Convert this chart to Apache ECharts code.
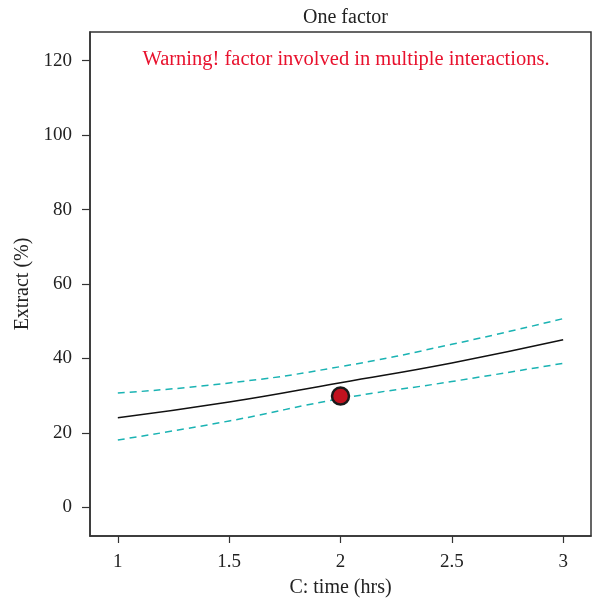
<!DOCTYPE html>
<html>
<head>
<meta charset="utf-8">
<script src="https://cdn.jsdelivr.net/npm/echarts@6/dist/echarts.min.js"></script>
<style>
  html, body { margin: 0; padding: 0; background: #fff; }
  #chart { width: 595px; height: 603px; }
</style>
</head>
<body>
<div id="chart"></div>
<script>
// 数据：时间 (hrs) 与提取率 (%)
var timeHrs = [1, 1.5, 2, 2.5, 3];
var predicted = [24.1, 28.3, 33.5, 38.8, 45.0];
var upperBand = [30.7, 33.4, 37.8, 43.8, 50.7];
var lowerBand = [18.1, 23.2, 29.2, 33.8, 38.7];
var designPoint = [[2, 29.9]];
var xTicks = [1, 1.5, 2, 2.5, 3];
var yTicks = [0, 20, 40, 60, 80, 100, 120];

function pairs(xs, ys) {
  return xs.map(function (x, i) { return [x, ys[i]]; });
}

var font = "Liberation Serif";
var axisColor = "#333";

var chart = echarts.init(document.getElementById("chart"), null, { renderer: "canvas" });
chart.setOption({
  animation: false,
  textStyle: { fontFamily: font },
  title: [
    {
      text: "One factor",
      left: 340.5,
      textAlign: "center",
      top: 3,
      textStyle: { fontFamily: font, fontSize: 20, fontWeight: "normal", color: "#222" }
    },
    {
      text: "Warning! factor involved in multiple interactions.",
      left: 341,
      textAlign: "center",
      top: 44,
      textStyle: { fontFamily: font, fontSize: 20.5, fontWeight: "normal", color: "#e8112d" }
    }
  ],
  grid: {
    left: 90,
    right: 4,
    top: 32,
    bottom: 67,
    show: true,
    borderColor: axisColor,
    borderWidth: 1.5,
    containLabel: false,
    outerBoundsMode: "none"
  },
  xAxis: {
    type: "value",
    min: 0.875,
    max: 3.125,
    name: "C: time (hrs)",
    nameLocation: "middle",
    nameGap: 42,
    nameTextStyle: { fontFamily: font, fontSize: 20, color: "#222" },
    axisLine: { show: true, onZero: false, lineStyle: { color: axisColor, width: 1.5 } },
    axisTick: { show: true, length: 7, customValues: xTicks, lineStyle: { color: axisColor, width: 1.2 } },
    axisLabel: { customValues: xTicks, margin: 17, fontFamily: font, fontSize: 19, color: "#222" },
    splitLine: { show: false }
  },
  yAxis: {
    type: "value",
    min: -7.7,
    max: 127.7,
    name: "Extract (%)",
    nameLocation: "middle",
    nameGap: 53,
    nameRotate: 90,
    nameTextStyle: { fontFamily: font, fontSize: 20, color: "#222" },
    axisLine: { show: true, onZero: false, lineStyle: { color: axisColor, width: 1.5 } },
    axisTick: { show: true, length: 8, customValues: yTicks, lineStyle: { color: axisColor, width: 1.2 } },
    axisLabel: { customValues: yTicks, margin: 18, fontFamily: font, fontSize: 19, color: "#222" },
    splitLine: { show: false }
  },
  series: [
    {
      name: "upper",
      type: "line",
      smooth: true,
      symbol: "none",
      data: pairs(timeHrs, upperBand),
      lineStyle: { color: "#1ab3b3", width: 1.5, type: [7, 5] }
    },
    {
      name: "lower",
      type: "line",
      smooth: true,
      symbol: "none",
      data: pairs(timeHrs, lowerBand),
      lineStyle: { color: "#1ab3b3", width: 1.5, type: [7, 5] }
    },
    {
      name: "predicted",
      type: "line",
      smooth: true,
      symbol: "none",
      data: pairs(timeHrs, predicted),
      lineStyle: { color: "#111", width: 1.5 }
    },
    {
      name: "design",
      type: "scatter",
      symbolSize: 17,
      data: designPoint,
      itemStyle: { color: "#c1121f", borderColor: "#1a1a1a", borderWidth: 2.5, opacity: 1 },
      z: 5
    }
  ]
});
</script>
</body>
</html>
